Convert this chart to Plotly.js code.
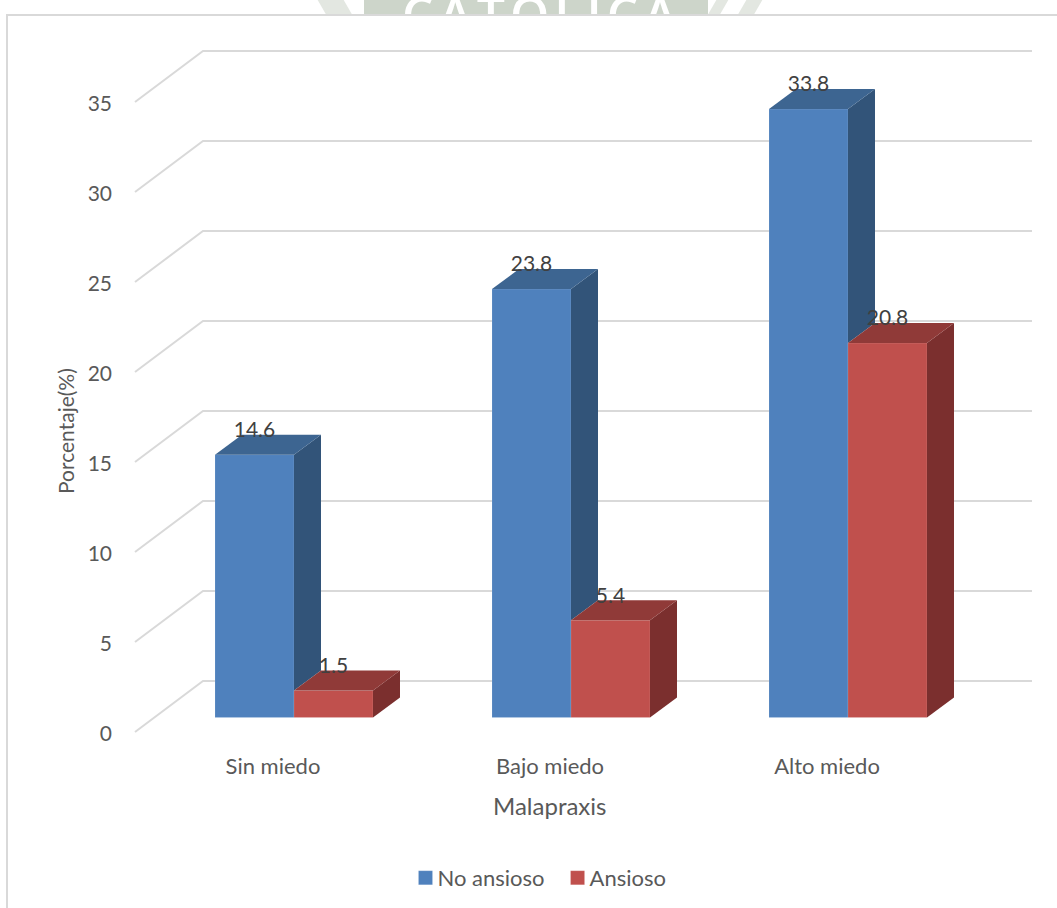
<!DOCTYPE html>
<html lang="es">
<head>
<meta charset="utf-8">
<title>Malapraxis</title>
<script src="https://cdn.plot.ly/plotly-3.0.1.min.js"></script>
<style>
  html, body { margin: 0; padding: 0; background: #fff; width: 1057px; height: 908px; overflow: hidden; }
  #crest { position: absolute; left: 0; top: 0; width: 1057px; height: 15px; overflow: hidden; }
  #crest .band { position: absolute; left: 364px; top: 0; width: 344px; height: 15px; background: #cdd5ca; }
  #crest .stripe { position: absolute; top: 0; height: 15px; background: #e3e7e1; }
  #crest span { position: absolute; left: 402px; top: -20px; font: 600 50px "Open Sans", sans-serif; letter-spacing: 5px; color: #fff; }
  #frame { position: absolute; left: 6px; top: 14px; width: 1051px; height: 894px; background: #fff;
           border-left: 2px solid #d9d9d9; border-top: 2px solid #d9d9d9; box-sizing: border-box; }
  #chart { position: absolute; left: 0; top: 0; width: 1057px; height: 908px; }
</style>
</head>
<body>
<div id="crest">
  <div class="stripe" style="left:322px;width:26px;transform:skewX(30deg)"></div>
  <div class="stripe" style="left:712px;width:12px;transform:skewX(-30deg)"></div>
  <div class="stripe" style="left:742px;width:16px;transform:skewX(-30deg)"></div>
  <div class="band"></div>
  <span>CATÓLICA</span>
</div>
<div id="frame"></div>
<div id="chart"></div>
<script>
// Fear-of-malpractice level against anxiety, percentages per group
const categories = ["Sin miedo", "Bajo miedo", "Alto miedo"];
const noAnsioso = [14.6, 23.8, 33.8];
const ansioso = [1.5, 5.4, 20.8];
const tickValues = [0, 5, 10, 15, 20, 25, 30, 35];

const FONT = 'Lato, "Open Sans", sans-serif';
const GREY = "#595959";

// Pseudo-3D geometry, in axis units (1 x unit = 277 px, 1 y unit = 18 px)
const BAR_W = 79 / 277;
const BAR_DX = 27 / 277, BAR_DY = 20 / 18;
const FLOOR = 16.5 / 18;
const WALL_LEFT = -159 / 277, WALL_DX = 68 / 277, WALL_Y0 = 2 / 18, WALL_DY = 51 / 18, WALL_RIGHT = 738 / 277;
const LABEL_SHIFT = 23 / 18;
const CAT_SHIFT = -21 / 277;

const BLUE = { front: "#4f81bd", top: "#3d6591", side: "#325479" };
const RED = { front: "#c0504d", top: "#903a38", side: "#7b2f2e" };

// Back-wall grid lines run behind the bars, so they are below-layer shapes
const gridShapes = tickValues.map(v => ({
  type: "path", layer: "below", xref: "x", yref: "y",
  path: `M${WALL_LEFT},${v + WALL_Y0} L${WALL_LEFT + WALL_DX},${v + WALL_Y0 + WALL_DY} L${WALL_RIGHT},${v + WALL_Y0 + WALL_DY}`,
  line: { color: "#d9d9d9", width: 2 }
}));

function face(xs, ys, color) {
  return { type: "scatter", mode: "lines", x: xs, y: ys, fill: "toself", fillcolor: color,
           line: { width: 0, color: color }, hoverinfo: "skip", showlegend: false };
}

function front(name, values, color) {
  return { type: "bar", name: name, x: [0, 1, 2], y: values, base: values.map(() => FLOOR),
           marker: { color: color, line: { color: "rgba(255,255,255,0.12)", width: 1 } },
           hoverinfo: "skip" };
}

const traces = [front("No ansioso", noAnsioso, BLUE.front), front("Ansioso", ansioso, RED.front)];

categories.forEach((_, i) => {
  const a = FLOOR + noAnsioso[i], r = FLOOR + ansioso[i];
  // Blue block: the part of its side hidden by the red block is left out
  traces.push(face([i, i + BAR_DX, i + BAR_DX, i, i], [a, a + BAR_DY, r + BAR_DY, r, a], BLUE.side));
  traces.push(face([i - BAR_W, i - BAR_W + BAR_DX, i + BAR_DX, i, i - BAR_W],
                   [a, a + BAR_DY, a + BAR_DY, a, a], BLUE.top));
  // Red block
  const e = i + BAR_W;
  traces.push(face([e, e + BAR_DX, e + BAR_DX, e, e],
                   [r, r + BAR_DY, FLOOR + BAR_DY, FLOOR, r], RED.side));
  traces.push(face([i, i + BAR_DX, e + BAR_DX, e, i], [r, r + BAR_DY, r + BAR_DY, r, r], RED.top));
});

// Value labels sit just over the front edge of each block
function valueLabels(values, xShift) {
  return { type: "scatter", mode: "text", x: values.map((_, i) => i + xShift),
           y: values.map(v => FLOOR + v + LABEL_SHIFT), text: values.map(v => v.toFixed(1)),
           textposition: "middle center", textfont: { family: FONT, size: 21, color: "#404040" },
           hoverinfo: "skip", showlegend: false, cliponaxis: false };
}
traces.push(valueLabels(noAnsioso, -BAR_W / 2), valueLabels(ansioso, BAR_W / 2));

const layout = {
  width: 1057, height: 908,
  paper_bgcolor: "rgba(0,0,0,0)", plot_bgcolor: "rgba(0,0,0,0)",
  margin: { l: 125, r: 17, t: 39, b: 158, pad: 0 },
  font: { family: FONT, size: 20, color: GREY },
  barmode: "group", bargap: 1 - 2 * BAR_W, bargroupgap: 0,
  xaxis: {
    range: [-169 / 277, 746 / 277], tickmode: "array",
    tickvals: categories.map((_, i) => i + CAT_SHIFT), ticktext: categories,
    showgrid: false, zeroline: false, showline: false, ticks: "",
    ticklabelstandoff: 1, tickfont: { family: FONT, size: 22, color: GREY }
  },
  yaxis: {
    range: [-16 / 18, 695 / 18], tickmode: "array", tickvals: tickValues,
    showgrid: false, zeroline: false, showline: false, ticks: "",
    ticklabelstandoff: 12, tickfont: { family: FONT, size: 21, color: GREY }
  },
  shapes: gridShapes,
  annotations: [
    { text: "Malapraxis", xref: "paper", yref: "paper", x: (549 - 125) / 915, y: -(805 - 750) / 711,
      xanchor: "center", yanchor: "middle", showarrow: false, font: { family: FONT, size: 24, color: GREY } },
    { text: "Porcentaje(%)", xref: "paper", yref: "paper", x: (65 - 125) / 915, y: (750 - 431) / 711,
      xanchor: "center", yanchor: "middle", textangle: -90, showarrow: false,
      font: { family: FONT, size: 21, color: GREY } }
  ],
  legend: {
    orientation: "h", xref: "container", yref: "container",
    x: 534.5 / 1057, xanchor: "center", y: (908 - 878) / 908, yanchor: "middle",
    font: { family: FONT, size: 22, color: GREY }, itemwidth: 30, bgcolor: "rgba(0,0,0,0)",
    traceorder: "normal"
  },
  hovermode: false
};

Plotly.newPlot("chart", traces, layout, { displayModeBar: false, staticPlot: true }).then(() => {
  // Tighter legend keys: a slightly larger square placed close to its label
  document.querySelectorAll("#chart .legend .legendsymbols").forEach(g => {
    g.setAttribute("transform", "translate(8,0)");
    g.querySelectorAll("path").forEach(p => p.setAttribute("d", "M7,7H-7V-7H7Z"));
  });
});
</script>
</body>
</html>
